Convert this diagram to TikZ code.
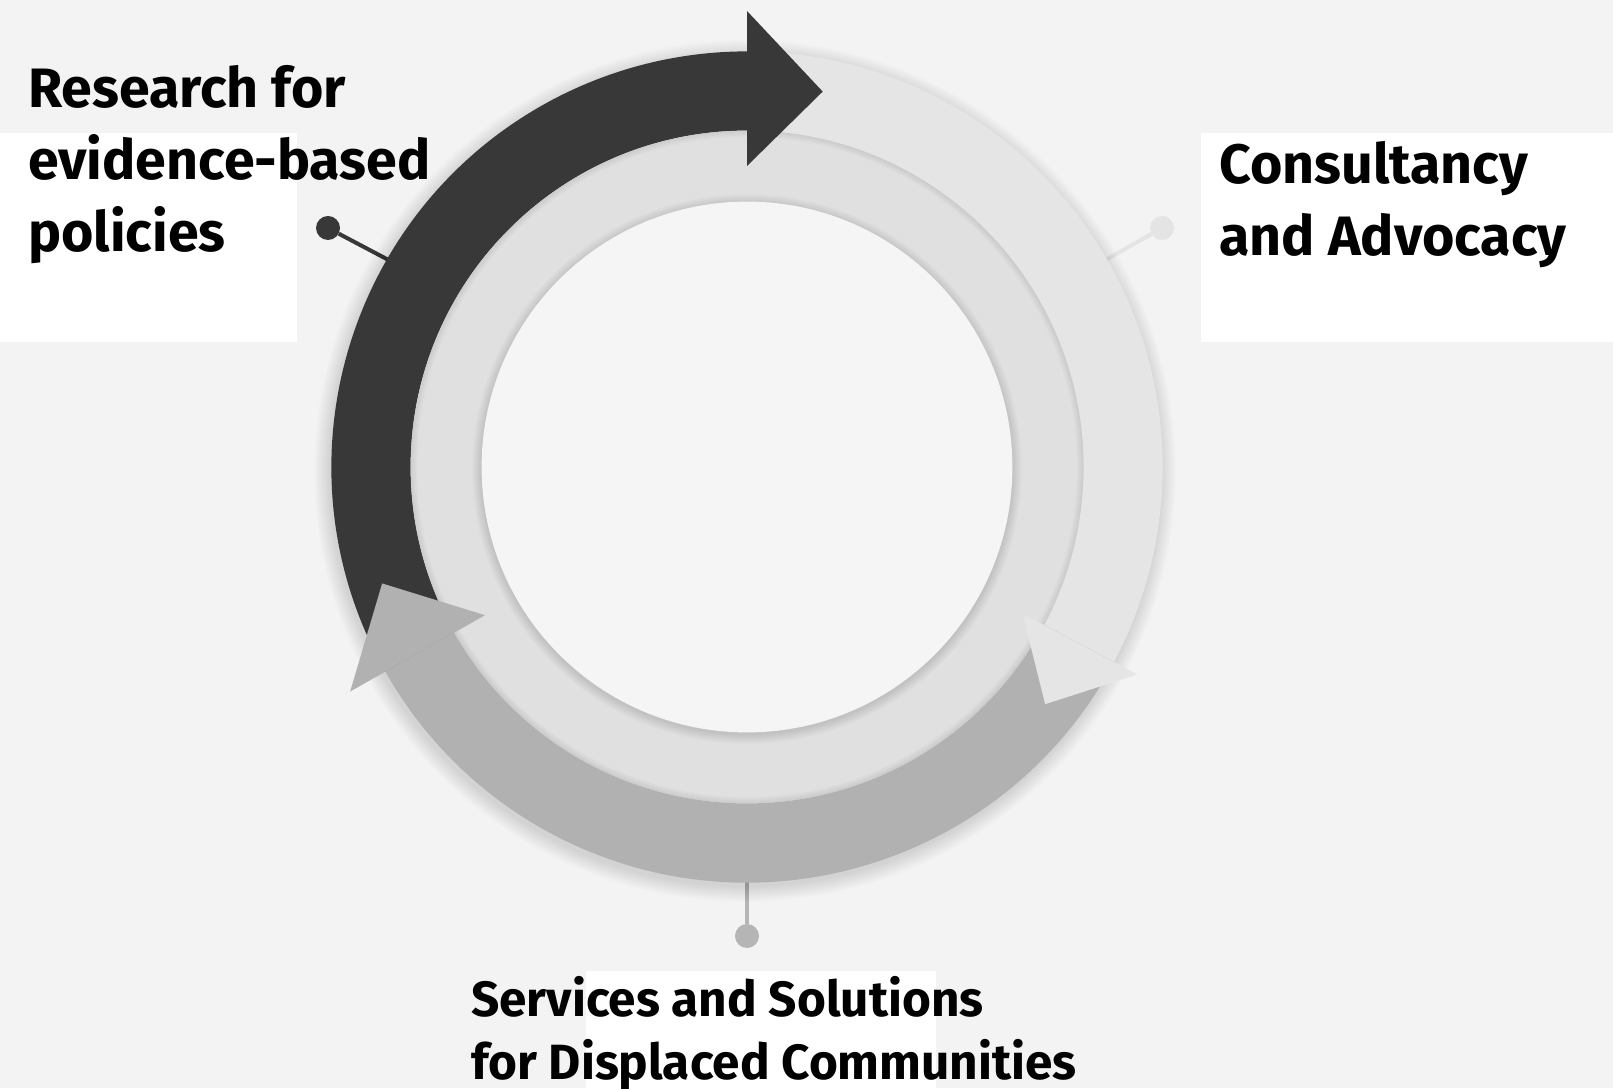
\documentclass[tikz,border=0pt]{standalone}
\usepackage{fontspec}
\setmainfont{Fira Sans}
\definecolor{bgc}{HTML}{F3F3F3}
\definecolor{diskc}{HTML}{F5F5F5}
\definecolor{ringc}{HTML}{E0E0E0}
\definecolor{lightc}{HTML}{E5E5E5}
\definecolor{darkc}{HTML}{383838}
\definecolor{greyc}{HTML}{B1B1B1}
\definecolor{lightdot}{HTML}{E4E4E4}
\definecolor{greydot}{HTML}{B5B5B5}
\begin{document}
\begin{tikzpicture}[x=1pt,y=1pt,
  dotnode/.style={circle,minimum size=24pt,inner sep=0pt},
  leader/.style={line width=4pt},
  label/.style={anchor=base west,inner sep=0pt,font=\fontsize{55.5}{62}\selectfont\bfseries,text=black},
  smalllabel/.style={label,font=\fontsize{49.5}{60}\selectfont\bfseries}]
\useasboundingbox (0,0) rectangle (1613,1088);
\fill[bgc] (0,0) rectangle (1613,1088);
% white text boxes
\fill[white] (0,746) rectangle (297,955);
\fill[white] (1201,746) rectangle (1613,955);
\fill[white] (586,0) rectangle (936,117);
\begin{scope}[shift={(747,621)}]
  \coordinate (eR) at (150:415);
  \coordinate (eC) at (30:415);
  \coordinate (eS) at (-90:415);
  \node[dotnode,fill=darkc] (dR) at (-419,239) {};
  \node[dotnode,fill=lightdot] (dC) at (415,239) {};
  \node[dotnode,fill=greydot] (dS) at (0,-469) {};
  \draw[leader,darkc] (dR) -- (eR);
  \draw[leader,lightdot] (dC) -- (eC);
  \draw[leader,greydot] (dS) -- (eS);
  % soft shadow of the arrow ring
  \foreach \k in {1,...,16} {\fill[black,opacity=0.008] (-2,-4) circle[radius=415+\k];}
  % arrow bodies
  \fill[darkc] (209.5:415.6) arc[start angle=209.5,end angle=90,radius=415.6]
     -- (90:336.4) arc[start angle=90,end angle=209.5,radius=336.4] -- cycle;
  \fill[lightc] (90:415.6) arc[start angle=90,end angle=-28,radius=415.6]
     -- (-28:336.4) arc[start angle=-28,end angle=90,radius=336.4] -- cycle;
  \fill[greyc] (-28:415.6) arc[start angle=-28,end angle=-150.5,radius=415.6]
     -- (-150.5:336.4) arc[start angle=-150.5,end angle=-28,radius=336.4] -- cycle;
  % inner ring
  \fill[ringc] (0,0) circle[radius=336.4];
  \foreach \k [evaluate=\k as \op using 0.08-0.012*\k] in {0,...,6}
    {\draw[black,opacity=\op,line width=1pt] (0,0) circle[radius=336-\k];}
  % shadow of the disk
  \foreach \k in {1,...,10} {\fill[black,opacity=0.012] (0,-2) circle[radius=265+\k];}
  \fill[diskc] (0,0) circle[radius=265.4];
  % arrow heads
  \fill[darkc] (90:301) -- (90:456) -- (78.6:383) -- cycle;
  \fill[lightc] (-28:312) -- (-28:442) -- (-38.5:381) -- cycle;
  \fill[greyc] (-150.5:301) -- (-150.5:456) -- (-162.3:383) -- cycle;
\end{scope}
% labels
\node[label] (r1) at (28,980) {Research for};
\node[label] (r2) at (28,908) {evidence-based};
\node[label] (r3) at (28,836) {policies};
\node[label] (c1) at (1219,904) {Consultancy};
\node[label] (c2) at (1219,832) {and Advocacy};
\node[smalllabel] (s1) at (471,72) {Services and Solutions};
\node[smalllabel] (s2) at (471,9) {for Displaced Communities};
\end{tikzpicture}
\end{document}
